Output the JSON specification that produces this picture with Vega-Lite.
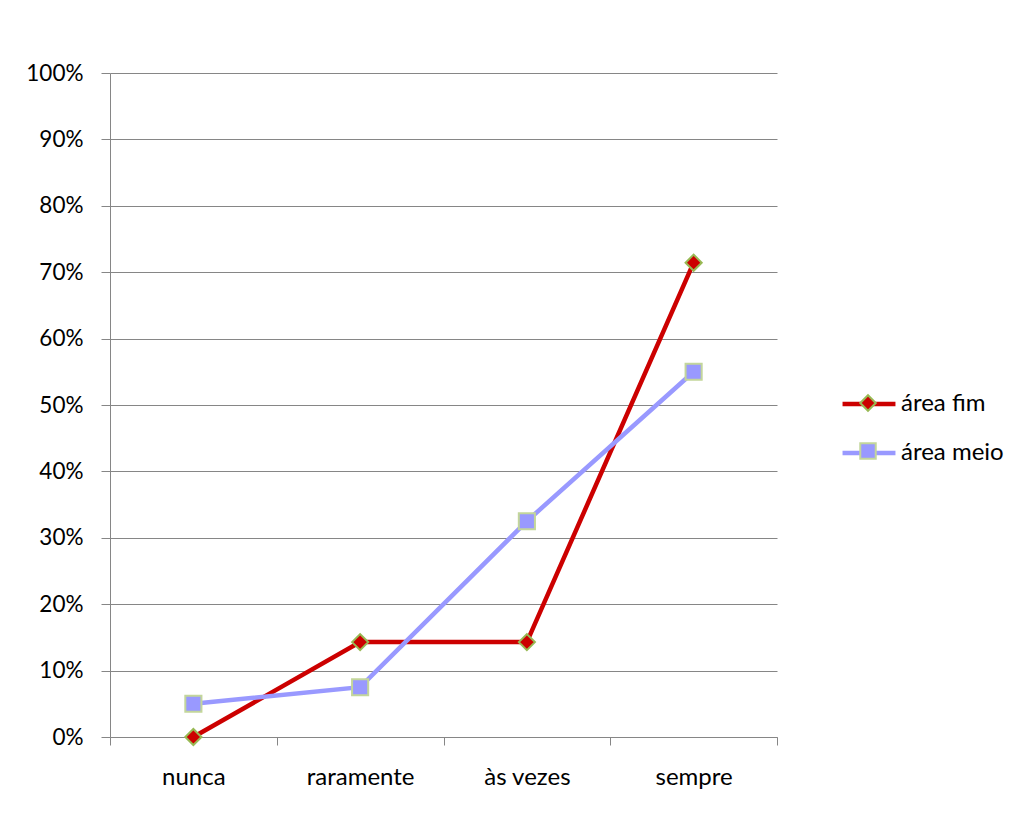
{
  "$schema": "https://vega.github.io/schema/vega-lite/v6.json",
  "width": 667,
  "height": 664,
  "autosize": {"type": "none"},
  "padding": {"left": 110, "top": 73, "right": 250, "bottom": 98},
  "background": "white",
  "config": {
    "view": {"stroke": null},
    "font": "Lato",
    "axis": {
      "domainColor": "#868686",
      "tickColor": "#868686",
      "gridColor": "#868686",
      "labelColor": "#000000",
      "labelFont": "Lato",
      "title": null
    },
    "legend": {"labelFont": "Lato", "labelFontSize": 24, "labelColor": "#000000"}
  },
  "data": {
    "values": [
      {"cat": "nunca", "series": "área fim", "value": 0},
      {"cat": "raramente", "series": "área fim", "value": 0.1429},
      {"cat": "às vezes", "series": "área fim", "value": 0.1429},
      {"cat": "sempre", "series": "área fim", "value": 0.7143},
      {"cat": "nunca", "series": "área meio", "value": 0.05},
      {"cat": "raramente", "series": "área meio", "value": 0.075},
      {"cat": "às vezes", "series": "área meio", "value": 0.325},
      {"cat": "sempre", "series": "área meio", "value": 0.55}
    ]
  },
  "encoding": {
    "x": {
      "field": "cat",
      "type": "nominal",
      "sort": ["nunca", "raramente", "às vezes", "sempre"],
      "scale": {"type": "band", "paddingInner": 0, "paddingOuter": 0},
      "axis": {"tickBand": "extent", "tickSize": 8, "labelPadding": 20, "labelAngle": 0, "grid": false, "labelFontSize": 24}
    },
    "y": {
      "field": "value",
      "type": "quantitative",
      "scale": {"domain": [0, 1]},
      "axis": {
        "format": ".0%",
        "values": [0, 0.1, 0.2, 0.3, 0.4, 0.5, 0.6, 0.7, 0.8, 0.9, 1],
        "tickSize": 9,
        "labelPadding": 18,
        "labelFontSize": 22.5,
        "grid": true
      }
    }
  },
  "layer": [
    {
      "mark": {"type": "line", "strokeWidth": 4.5},
      "encoding": {
        "color": {
          "field": "series",
          "type": "nominal",
          "scale": {"domain": ["área fim", "área meio"], "range": ["#cc0000", "#9999ff"]},
          "legend": {
            "title": null,
            "orient": "none",
            "legendX": 730,
            "legendY": 302,
            "symbolType": "stroke",
            "symbolSize": 2800,
            "symbolStrokeWidth": 4.5,
            "rowPadding": 8,
            "labelOffset": 3
          }
        }
      }
    },
    {
      "mark": {"type": "point", "filled": true, "opacity": 1, "strokeWidth": 2, "size": 260},
      "encoding": {
        "fill": {
          "field": "series",
          "type": "nominal",
          "scale": {"range": ["#cc0000", "#9999ff"]},
          "legend": {
            "title": null,
            "orient": "none",
            "legendX": 749,
            "legendY": 321,
            "symbolSize": 240,
            "symbolStrokeColor": "#9bbb59",
            "symbolStrokeWidth": 2,
            "labelExpr": "''",
            "labelFontSize": 1,
            "rowPadding": 24
          }
        },
        "shape": {
          "field": "series",
          "type": "nominal",
          "scale": {"range": ["diamond", "square"]}
        },
        "stroke": {
          "field": "series",
          "type": "nominal",
          "scale": {"range": ["#98b954", "#c3d69b"]},
          "legend": null
        }
      }
    }
  ]
}
